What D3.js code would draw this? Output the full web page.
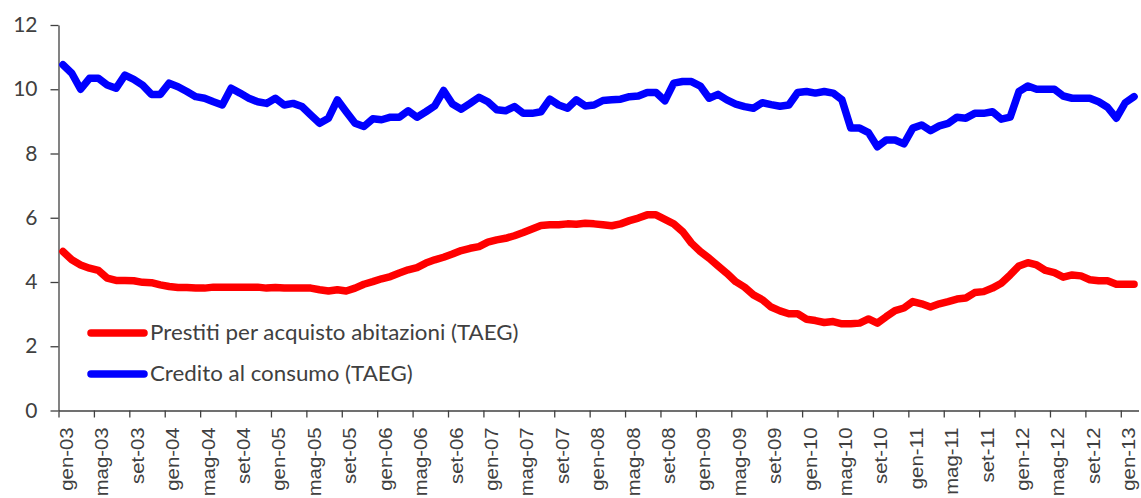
<!DOCTYPE html>
<html>
<head>
<meta charset="utf-8">
<script src="https://cdn.jsdelivr.net/npm/d3@7"></script>
<style>
  html, body { margin: 0; padding: 0; background: #fff; }
  svg { display: block; }
</style>
</head>
<body>
<svg id="chart" width="1141" height="498"></svg>
<script>
// ---- data ----
const monthNames = ["gen","feb","mar","apr","mag","giu","lug","ago","set","ott","nov","dic"];
const startYear = 2003;
const nPoints = 122; // gen-03 .. feb-13

const seriesNames = ["Prestiti per acquisto abitazioni (TAEG)", "Credito al consumo (TAEG)"];
const seriesColors = ["#ff0000", "#0000ff"];

const prestiti = [
  4.95,4.69,4.53,4.43,4.36,4.12,4.05,4.05,4.04,3.99,3.98,3.91,
  3.86,3.83,3.83,3.81,3.81,3.84,3.84,3.84,3.84,3.84,3.84,3.81,
  3.83,3.81,3.81,3.81,3.81,3.76,3.72,3.76,3.72,3.81,3.93,4.01,
  4.10,4.17,4.28,4.38,4.45,4.59,4.69,4.77,4.87,4.98,5.05,5.10,
  5.24,5.31,5.36,5.44,5.54,5.65,5.76,5.78,5.78,5.81,5.80,5.83,
  5.81,5.78,5.75,5.81,5.91,5.99,6.09,6.09,5.95,5.81,5.57,5.21,
  4.95,4.74,4.50,4.27,4.01,3.84,3.60,3.45,3.22,3.10,3.01,3.01,
  2.84,2.80,2.74,2.77,2.70,2.70,2.72,2.85,2.72,2.92,3.11,3.19,
  3.39,3.32,3.22,3.32,3.39,3.47,3.50,3.67,3.70,3.81,3.96,4.22,
  4.50,4.60,4.53,4.36,4.29,4.15,4.22,4.19,4.07,4.04,4.04,3.93,
  3.93,3.93
];
const credito = [
  10.76,10.50,10.00,10.34,10.34,10.13,10.03,10.44,10.31,10.13,9.84,9.84,
  10.19,10.08,9.93,9.77,9.72,9.61,9.51,10.03,9.88,9.72,9.61,9.56,
  9.72,9.51,9.56,9.46,9.20,8.94,9.10,9.67,9.30,8.94,8.84,9.08,
  9.05,9.13,9.13,9.33,9.13,9.30,9.48,9.96,9.54,9.38,9.56,9.75,
  9.61,9.36,9.33,9.46,9.25,9.25,9.30,9.69,9.51,9.41,9.67,9.48,
  9.51,9.65,9.67,9.69,9.77,9.79,9.90,9.90,9.64,10.19,10.24,10.24,
  10.10,9.72,9.84,9.67,9.54,9.46,9.41,9.58,9.52,9.47,9.51,9.90,
  9.93,9.88,9.93,9.88,9.67,8.79,8.79,8.65,8.21,8.42,8.42,8.30,
  8.79,8.89,8.71,8.86,8.94,9.13,9.10,9.25,9.25,9.30,9.07,9.13,
  9.93,10.10,10.00,10.00,10.00,9.79,9.72,9.72,9.72,9.61,9.44,9.10,
  9.58,9.77
];
const yTicks = [0, 2, 4, 6, 8, 10, 12];
const tickEvery = 4;

// categories (labels) built from month names
const categories = d3.range(nPoints).map(i =>
  monthNames[i % 12] + "-" + String((startYear + Math.floor(i / 12)) % 100).padStart(2, "0"));

// ---- layout ----
const svg = d3.select("#chart");
const axisColor = "#404040";
const textColor = "#404040";
const plotLeft = 58.5, plotRight = 1138.5, plotTop = 25, plotBottom = 410.5;

const x = d3.scaleLinear().domain([0, nPoints]).range([plotLeft, plotRight]);
const y = d3.scaleLinear().domain([0, 12]).range([plotBottom, plotTop]);

// y axis
const yAxis = svg.append("g")
  .attr("transform", `translate(${plotLeft},0)`)
  .call(d3.axisLeft(y).tickValues(yTicks).tickSize(8).tickPadding(13).tickSizeOuter(0));
yAxis.select(".domain").attr("stroke", axisColor).attr("stroke-width", 1.3);
yAxis.selectAll(".tick line").attr("stroke", axisColor).attr("stroke-width", 1.3);
yAxis.selectAll(".tick text")
  .attr("fill", textColor)
  .style("font-family", "Lato, 'Open Sans', sans-serif")
  .style("font-size", "21px");

// x axis (ticks at category boundaries)
const tickIdx = d3.range(0, nPoints, tickEvery);
const xAxis = svg.append("g")
  .attr("transform", `translate(0,${plotBottom})`)
  .call(d3.axisBottom(x).tickValues(tickIdx).tickSize(7).tickSizeOuter(0).tickFormat(""));
xAxis.select(".domain").attr("stroke", axisColor).attr("stroke-width", 1.3);
xAxis.selectAll(".tick line").attr("stroke", axisColor).attr("stroke-width", 1.3);

// x labels, rotated
svg.append("g").selectAll("text")
  .data(tickIdx)
  .join("text")
  .attr("transform", d => `translate(${x(d) + 14.5},${plotBottom + 17}) rotate(-90) scale(1.16,1)`)
  .attr("text-anchor", "end")
  .attr("fill", textColor)
  .style("font-family", "'Liberation Sans', Arial, sans-serif")
  .style("font-size", "17.5px")
  .text(d => categories[d]);

// lines
const line = d3.line()
  .x((d, i) => x(i + 0.5))
  .y(d => y(d));

[prestiti, credito].forEach((s, k) => {
  svg.append("path")
    .datum(s)
    .attr("d", line)
    .attr("fill", "none")
    .attr("stroke", seriesColors[k])
    .attr("stroke-width", 7.5)
    .attr("stroke-linejoin", "round")
    .attr("stroke-linecap", "round");
});

// legend
const legend = svg.append("g").attr("transform", "translate(89,333)");
seriesNames.forEach((name, k) => {
  const g = legend.append("g").attr("transform", `translate(0,${k * 41})`);
  g.append("line")
    .attr("x1", 2).attr("x2", 55).attr("y1", 0).attr("y2", 0)
    .attr("stroke", seriesColors[k]).attr("stroke-width", 7.5).attr("stroke-linecap", "round");
  g.append("text")
    .attr("transform", "translate(61,7) scale(1.09,1)")
    .attr("fill", textColor)
    .style("font-family", "Lato, 'Open Sans', sans-serif")
    .style("font-size", "20.5px")
    .text(name);
});
</script>
</body>
</html>
